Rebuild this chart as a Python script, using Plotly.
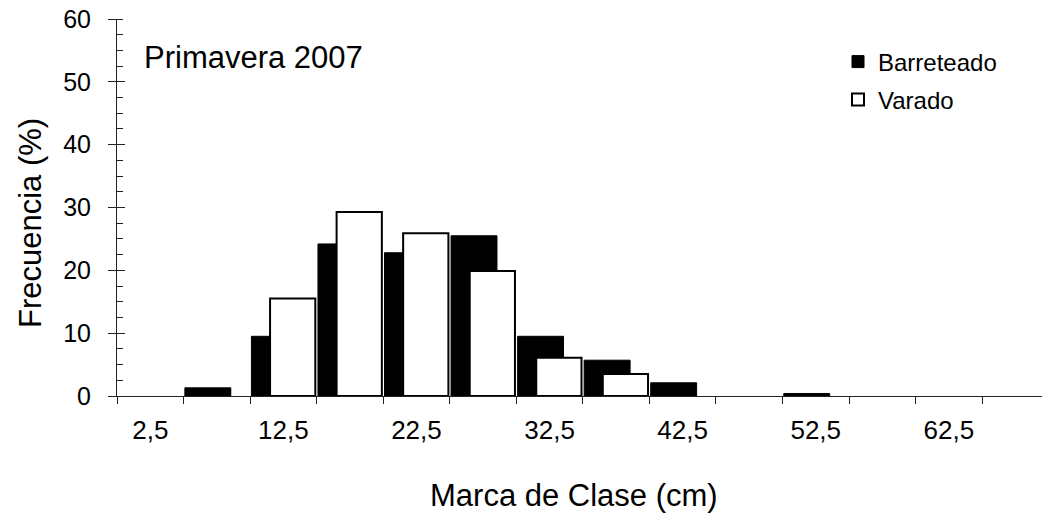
import plotly.graph_objects as go

# Class marks (cm) and relative frequency (%) per sampling method
class_marks = [2.5, 7.5, 12.5, 17.5, 22.5, 27.5, 32.5, 37.5, 42.5, 47.5, 52.5, 57.5, 62.5, 67.5]
barreteado = [0, 1.3, 9.5, 24.2, 22.8, 25.5, 9.5, 5.7, 2.1, 0, 0.4, 0, 0, 0]
varado = [0, 0, 15.5, 29.3, 25.9, 19.9, 6.1, 3.5, 0, 0, 0, 0, 0, 0]

# Labelled class marks and the class boundaries carrying the tick marks
label_marks = [2.5, 12.5, 22.5, 32.5, 42.5, 52.5, 62.5]
label_text = ["2,5", "12,5", "22,5", "32,5", "42,5", "52,5", "62,5"]
class_edges = [0, 5, 10, 15, 20, 25, 30, 35, 40, 45, 50, 55, 60, 65]

FONT = "Liberation Sans, Arial, sans-serif"
AXIS = "#222222"

W, H = 1042, 514
L, R, T, B = 117, 0, 19, 118
X_RANGE = [0, 69.5]
Y_RANGE = [0, 60]


def px_x(px):
    return (px - L) / (W - L - R)


def px_y(py):
    return (H - B - py) / (H - T - B)


def nonzero(values):
    # empty classes get no bar at all
    return [v if v else None for v in values]


fig = go.Figure()
fig.add_trace(go.Bar(
    x=class_marks, y=nonzero(barreteado), name="Barreteado",
    width=3.45, offset=-2.4,
    marker=dict(color="black", line=dict(color="black", width=1)),
    legend="legend", showlegend=True,
))
fig.add_trace(go.Bar(
    x=class_marks, y=nonzero(varado), name="Varado",
    width=3.4, offset=-1.0,
    marker=dict(color="white", line=dict(color="black", width=2)),
    legend="legend2", showlegend=True,
))
# empty trace that hosts the overlaid tick-mark axes
fig.add_trace(go.Scatter(
    x=[], y=[], xaxis="x2", yaxis="y2", showlegend=False, hoverinfo="skip",
))

fig.update_layout(
    width=W, height=H,
    margin=dict(l=L, r=R, t=T, b=B),
    paper_bgcolor="white", plot_bgcolor="white",
    barmode="overlay",
    showlegend=True,
    font=dict(family=FONT, color="black"),
    xaxis=dict(
        range=X_RANGE, tickmode="array", tickvals=label_marks, ticktext=label_text,
        ticks="", showline=True, linecolor=AXIS, linewidth=1,
        showgrid=False, zeroline=False, tickfont=dict(size=26),
        ticklabelstandoff=11,
    ),
    xaxis2=dict(
        range=X_RANGE, overlaying="x", anchor="y2", side="bottom",
        tickmode="array", tickvals=class_edges, ticks="outside", ticklen=7,
        tickcolor=AXIS, showticklabels=False, showline=False,
        showgrid=False, zeroline=False,
    ),
    yaxis=dict(
        range=Y_RANGE, tickmode="linear", tick0=0, dtick=10,
        ticks="outside", ticklen=8, tickcolor=AXIS,
        minor=dict(ticks="inside", dtick=2.5, tick0=0, ticklen=6, tickcolor=AXIS),
        showline=True, linecolor=AXIS, linewidth=1,
        showgrid=False, zeroline=False, tickfont=dict(size=25),
        ticklabelstandoff=12,
    ),
    yaxis2=dict(
        range=Y_RANGE, overlaying="y", anchor="x2", side="left",
        tickmode="linear", tick0=0, dtick=10, ticks="inside", ticklen=8,
        tickcolor=AXIS, showticklabels=False, showline=False,
        showgrid=False, zeroline=False,
    ),
    legend=dict(
        x=px_x(838), y=px_y(62), xanchor="left", yanchor="middle",
        bgcolor="rgba(0,0,0,0)", font=dict(size=24),
    ),
    legend2=dict(
        x=px_x(838), y=px_y(100), xanchor="left", yanchor="middle",
        bgcolor="rgba(0,0,0,0)", font=dict(size=24),
    ),
    annotations=[
        dict(text="Primavera 2007", xref="paper", yref="paper",
             x=px_x(142), y=px_y(57), xanchor="left", yanchor="middle",
             showarrow=False, font=dict(size=31)),
        dict(text="Marca de Clase (cm)", xref="paper", yref="paper",
             x=px_x(574), y=px_y(495), xanchor="center", yanchor="middle",
             showarrow=False, font=dict(size=31)),
        dict(text="Frecuencia (%)", xref="paper", yref="paper",
             x=px_x(30), y=px_y(223), xanchor="center", yanchor="middle",
             textangle=-90, showarrow=False, font=dict(size=31)),
    ],
)

fig.write_html("out.html")
